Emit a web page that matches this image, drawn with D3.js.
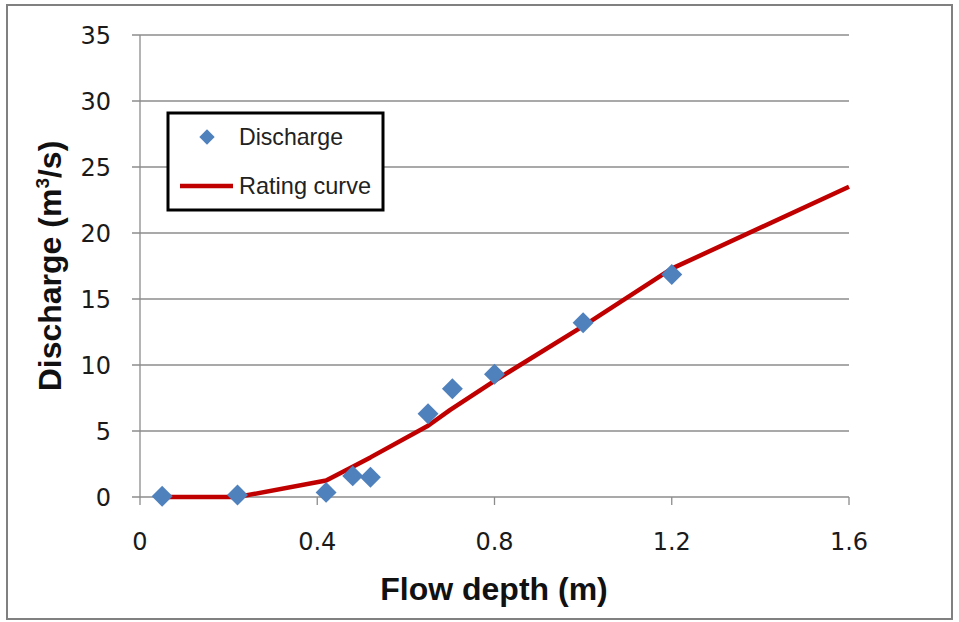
<!DOCTYPE html>
<html><head><meta charset="utf-8">
<script src="https://cdn.jsdelivr.net/npm/d3@7"></script>
<style>body{margin:0;background:#fff}</style>
</head><body>
<svg id="c" width="959" height="622"></svg>
<script>
// Data
const depth = [0.05, 0.22, 0.42, 0.48, 0.52, 0.65, 0.705, 0.80, 1.00, 1.20];
const discharge = [0.05, 0.15, 0.35, 1.6, 1.5, 6.3, 8.2, 9.3, 13.2, 16.85];
const curveDepth = [0.05, 0.22, 0.42, 0.48, 0.52, 0.65, 0.70, 0.80, 1.00, 1.20, 1.60];
const curveQ = [0, 0, 1.25, 2.3, 3.0, 5.4, 6.6, 8.8, 12.95, 17.3, 23.5];
const xTicks = [0, 0.4, 0.8, 1.2, 1.6];
const yTicks = [0, 5, 10, 15, 20, 25, 30, 35];

const svg = d3.select("#c");
const x = d3.scaleLinear().domain([0, 1.6]).range([140, 849]);
const y = d3.scaleLinear().domain([0, 35]).range([497, 35]);
const grid = "#8c8c8c";

// outer border
svg.append("rect").attr("x", 7).attr("y", 5).attr("width", 945).attr("height", 614)
  .attr("fill", "#fff").attr("stroke", "#808080").attr("stroke-width", 2);

// horizontal gridlines
svg.append("g").selectAll("line").data(yTicks).join("line")
  .attr("x1", 132).attr("x2", x(1.6)).attr("y1", d => y(d)).attr("y2", d => y(d))
  .attr("stroke", grid).attr("stroke-width", 1.3);
// y axis line
svg.append("line").attr("x1", x(0)).attr("x2", x(0)).attr("y1", y(35)).attr("y2", y(0) + 8)
  .attr("stroke", grid).attr("stroke-width", 1.3);
// x ticks
svg.append("g").selectAll("line").data(xTicks.slice(1)).join("line")
  .attr("x1", d => x(d)).attr("x2", d => x(d)).attr("y1", y(0)).attr("y2", y(0) + 8)
  .attr("stroke", grid).attr("stroke-width", 1.3);

// tick labels
svg.append("g").selectAll("text").data(yTicks).join("text")
  .attr("x", 111).attr("y", d => y(d) + 9).attr("text-anchor", "end")
  .attr("font-family", "DejaVu Sans").attr("font-size", 24).attr("fill", "#1a1a1a")
  .text(d => d);
svg.append("g").selectAll("text").data(xTicks).join("text")
  .attr("x", d => x(d)).attr("y", 550).attr("text-anchor", "middle")
  .attr("font-family", "DejaVu Sans").attr("font-size", 24).attr("fill", "#1a1a1a")
  .text(d => d);

// rating curve
const line = d3.line().x((d, i) => x(curveDepth[i])).y(d => y(d));
svg.append("path").datum(curveQ).attr("d", line).attr("fill", "none")
  .attr("stroke", "#c00000").attr("stroke-width", 4.5).attr("stroke-linejoin", "round");

// discharge points
const diamond = d3.symbol().type(d3.symbolDiamond2).size(280);
svg.append("g").selectAll("path").data(depth).join("path")
  .attr("d", diamond).attr("transform", (d, i) => `translate(${x(d)},${y(discharge[i])})`)
  .attr("fill", "#4f81bd");

// legend
const lg = svg.append("g");
lg.append("rect").attr("x", 168).attr("y", 113).attr("width", 215).attr("height", 97)
  .attr("fill", "#fff").attr("stroke", "#000").attr("stroke-width", 3);
lg.append("path").attr("d", d3.symbol().type(d3.symbolDiamond2).size(150))
  .attr("transform", "translate(207,137)").attr("fill", "#4f81bd");
lg.append("text").attr("x", 239).attr("y", 145).attr("font-family", "Liberation Sans")
  .attr("font-size", 24).attr("fill", "#222").attr("textLength", 104)
  .attr("lengthAdjust", "spacingAndGlyphs").text("Discharge");
lg.append("line").attr("x1", 180).attr("x2", 233).attr("y1", 186).attr("y2", 186)
  .attr("stroke", "#c00000").attr("stroke-width", 4.5);
lg.append("text").attr("x", 239).attr("y", 194).attr("font-family", "Liberation Sans")
  .attr("font-size", 24).attr("fill", "#222").attr("textLength", 132)
  .attr("lengthAdjust", "spacingAndGlyphs").text("Rating curve");

// axis titles
svg.append("text").attr("x", 494).attr("y", 600).attr("text-anchor", "middle")
  .attr("font-family", "Liberation Sans").attr("font-weight", "bold").attr("font-size", 32)
  .attr("fill", "#111").text("Flow depth (m)");
const yt = svg.append("text").attr("transform", "translate(61,266) rotate(-90)")
  .attr("text-anchor", "middle").attr("font-family", "Liberation Sans")
  .attr("font-weight", "bold").attr("font-size", 32).attr("fill", "#111");
yt.append("tspan").text("Discharge (m");
yt.append("tspan").attr("font-size", 19).attr("dy", -12).text("3");
yt.append("tspan").attr("dy", 12).text("/s)");
</script>
</body></html>
